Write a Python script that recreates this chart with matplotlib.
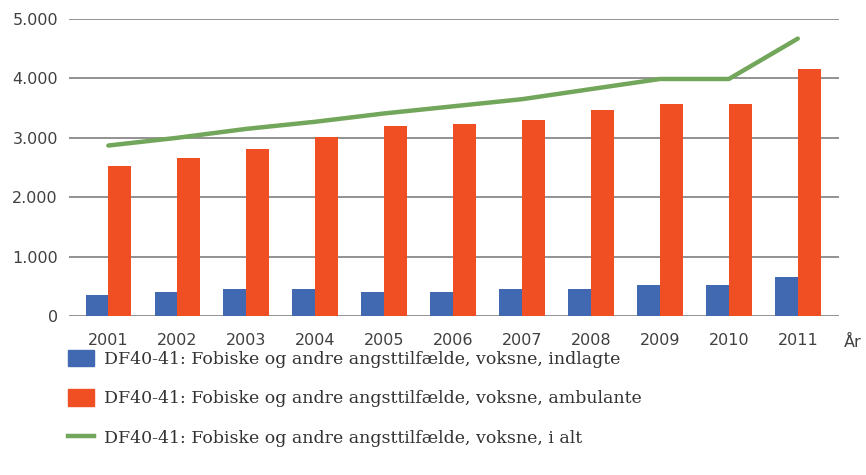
import numpy as np
import matplotlib.pyplot as plt
from matplotlib.patches import Patch
from matplotlib.lines import Line2D

# Data
years = ['2001', '2002', '2003', '2004', '2005', '2006',
         '2007', '2008', '2009', '2010', '2011']
indlagte = [350, 400, 455, 455, 405, 405, 455, 455, 520, 520, 655]
ambulante = [2530, 2660, 2810, 3010, 3200, 3230, 3300, 3470, 3570, 3570, 4160]
i_alt = [2870, 3000, 3150, 3270, 3410, 3530, 3650, 3820, 3990, 3990, 4670]
yticks = [0, 1000, 2000, 3000, 4000, 5000]
ytick_labels = ['0', '1.000', '2.000', '3.000', '4.000', '5.000']
labels = ['DF40-41: Fobiske og andre angsttilfælde, voksne, indlagte',
          'DF40-41: Fobiske og andre angsttilfælde, voksne, ambulante',
          'DF40-41: Fobiske og andre angsttilfælde, voksne, i alt']

blue = '#4169b2'
orange = '#f04f23'
green = '#72a65a'

fig = plt.figure(figsize=(8.66, 4.75), dpi=100)
ax = fig.add_axes([0.0797, 0.3347, 0.8893, 0.6253])

x = np.arange(len(years))
w = 0.33
ax.bar(x - w / 2, indlagte, width=w, color=blue, zorder=2)
ax.bar(x + w / 2, ambulante, width=w, color=orange, zorder=2)
ax.plot(x, i_alt, color=green, linewidth=3.2, zorder=3, solid_capstyle='round')

# Axes styling
ax.set_xlim(-0.57, 10.6)
ax.set_ylim(0, 5000)
ax.set_yticks(yticks)
ax.set_yticklabels(ytick_labels)
ax.set_xticks(x)
ax.set_xticklabels(years)
ax.tick_params(length=0, labelsize=11.5, labelcolor='#404040')
ax.tick_params(axis='x', pad=12)
ax.tick_params(axis='y', pad=8)
ax.grid(axis='y', color='#7f7f7f', linewidth=1.2, zorder=0)
for s in ax.spines.values():
    s.set_visible(False)
ax.text(1.006, -0.09, 'År', transform=ax.transAxes, fontsize=11.5,
        color='#404040', ha='left', va='center')

# Legend below the plot
handles = [Patch(color=blue), Patch(color=orange),
           Line2D([0], [0], color=green, linewidth=3.2)]
fig.legend(handles, labels, loc='upper left', bbox_to_anchor=(0.078, 0.264),
           frameon=False, handlelength=1.5, handleheight=1.1,
           handletextpad=0.6, labelspacing=1.22, borderaxespad=0,
           borderpad=0, labelcolor='#333333',
           prop={'family': 'DejaVu Serif', 'size': 12.5})

fig.savefig('out.png', dpi=100)
